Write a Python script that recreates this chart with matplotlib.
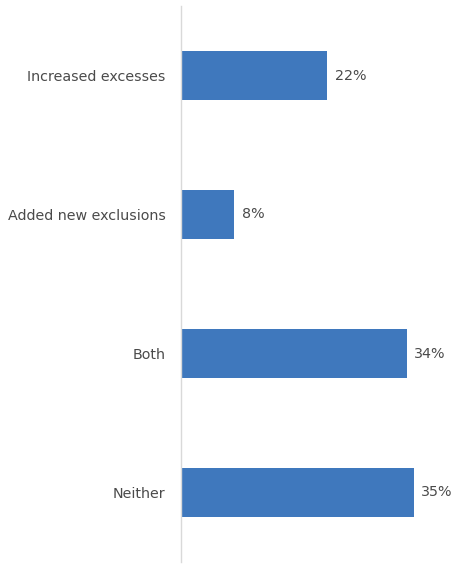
import matplotlib.pyplot as plt

plt.rcParams['font.family'] = ['DejaVu Sans']

categories = ['Increased excesses', 'Added new exclusions', 'Both', 'Neither']
values = [22, 8, 34, 35]
labels = ['22%', '8%', '34%', '35%']

bar_color = '#3f78bd'
text_color = '#4a4a4a'

fig = plt.figure(figsize=(4.62, 5.66), dpi=100)
ax = fig.add_axes([181 / 462, 4 / 566, 266 / 462, 556 / 566])

y = list(range(len(categories)))
bars = ax.barh(y, values, height=0.35, color=bar_color)

for b, lab in zip(bars, labels):
    ax.text(b.get_width() + 1.1, b.get_y() + b.get_height() / 2, lab,
            va='center', ha='left', fontsize=10.3, color=text_color)

ax.set_yticks(y)
ax.set_yticklabels(categories, fontsize=10.3, color=text_color)
ax.set_ylim(3.5, -0.5)
ax.set_xlim(0, 40)
ax.tick_params(axis='y', length=0, pad=11)
ax.set_xticks([])

for side in ['top', 'right', 'bottom']:
    ax.spines[side].set_visible(False)
ax.spines['left'].set_color('#d9d9d9')
ax.spines['left'].set_linewidth(1.0)

fig.savefig('out.png', dpi=100)
